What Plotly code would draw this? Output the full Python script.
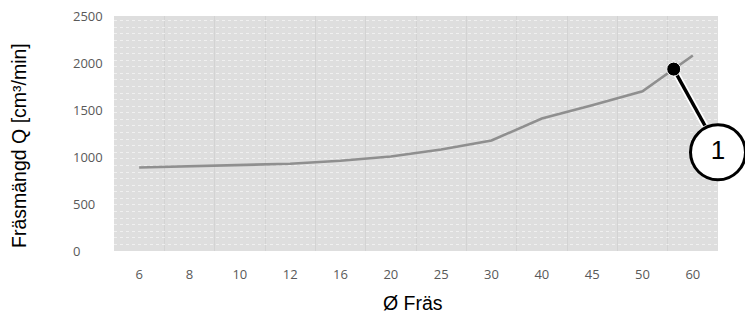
import plotly.graph_objects as go

categories = ["6", "8", "10", "12", "16", "20", "25", "30", "40", "45", "50", "60"]
fraesmaengd = [888, 903, 915, 928, 960, 1005, 1080, 1175, 1410, 1550, 1700, 2080]
y_ticks = [0, 500, 1000, 1500, 2000, 2500]
callout_point_x = [10.62]
callout_point_y = [1935]
callout_bubble_x = [11.5]
callout_bubble_y = [1050]
callout_label = "1"

L, R, T, B = 114, 27, 16, 69
W, H = 745, 320
pw, ph = W - L - R, H - T - B

def px_x(p):
    return (p - L) / pw

def px_y(p):
    return (H - B - p) / ph

idx = list(range(len(categories)))
fig = go.Figure()
fig.add_trace(go.Scatter(x=idx, y=fraesmaengd, mode="lines",
                         line=dict(color="#8f8f8f", width=2.6), hoverinfo="skip"))

# leader line from point to bubble (white halo + black)
lx = [callout_point_x[0], callout_point_x[0] + 0.62]
ly = [callout_point_y[0], callout_point_y[0] - 600]
fig.add_trace(go.Scatter(x=lx, y=ly, mode="lines", line=dict(color="white", width=7),
                         hoverinfo="skip", cliponaxis=False))
fig.add_trace(go.Scatter(x=lx, y=ly, mode="lines", line=dict(color="black", width=3.5),
                         hoverinfo="skip", cliponaxis=False))
fig.add_trace(go.Scatter(x=callout_bubble_x, y=callout_bubble_y, mode="markers+text",
                         text=[callout_label], textposition="middle center",
                         textfont=dict(family="Liberation Sans, Arial", size=26, color="black"),
                         marker=dict(color="white", size=55, line=dict(color="black", width=3)),
                         hoverinfo="skip", cliponaxis=False))
fig.add_trace(go.Scatter(x=callout_point_x, y=callout_point_y, mode="markers",
                         marker=dict(color="black", size=14, line=dict(color="white", width=1)),
                         hoverinfo="skip", cliponaxis=False))

for v in y_ticks:
    fig.add_annotation(text=str(v), xref="paper", yref="y", x=px_x(71), y=v,
                       xanchor="left", yanchor="middle", showarrow=False,
                       font=dict(family="Open Sans", size=13, color="#595959"))

fig.add_annotation(text="Fräsmängd Q [cm³/min]", xref="paper", yref="paper",
                   x=px_x(19), y=px_y(146), textangle=-90, showarrow=False,
                   xanchor="center", yanchor="middle",
                   font=dict(family="Liberation Sans, Arial", size=19.5, color="black"))
fig.add_annotation(text="Ø Fräs", xref="paper", yref="paper",
                   x=px_x(413), y=px_y(303), showarrow=False,
                   xanchor="center", yanchor="middle",
                   font=dict(family="Liberation Sans, Arial", size=19.5, color="black"))

fig.update_layout(
    width=W, height=H, margin=dict(l=L, r=R, t=T, b=B),
    paper_bgcolor="white", plot_bgcolor="#dedede", showlegend=False,
    xaxis=dict(range=[-0.5, len(categories) - 0.5], tickvals=idx, ticktext=categories,
               showgrid=False, zeroline=False, showline=False,
               ticks="outside", ticklen=11, tickcolor="rgba(0,0,0,0)",
               tickfont=dict(family="Open Sans", size=13, color="#595959"),
               minor=dict(tickvals=[i - 0.5 for i in range(len(categories) + 1)],
                          showgrid=True, gridcolor="#d3d3d3", gridwidth=1)),
    yaxis=dict(range=[0, 2500], showticklabels=False, showgrid=False, zeroline=False,
               showline=False, ticks="",
               minor=dict(dtick=70, showgrid=True, gridcolor="rgba(255,255,255,0.55)",
                          gridwidth=1, griddash="dot")),
)

fig.write_html("out.html", config={"displayModeBar": False},
               post_script="document.body.style.margin='0';document.body.style.overflow='hidden';")
